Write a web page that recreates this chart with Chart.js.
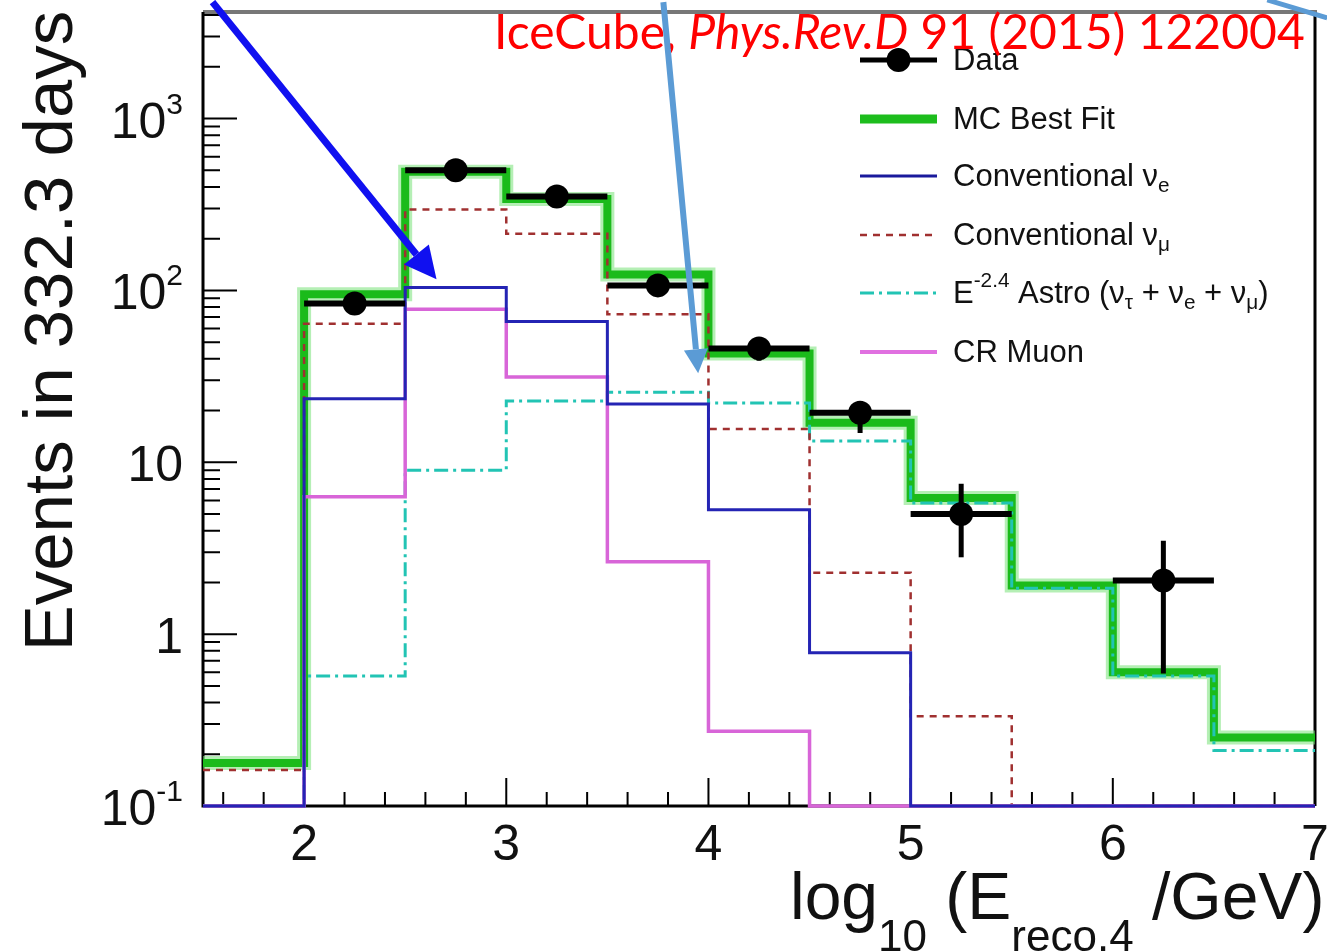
<!DOCTYPE html>
<html>
<head>
<meta charset="utf-8">
<script src="https://cdn.jsdelivr.net/npm/chart.js@4.4.0/dist/chart.umd.min.js"></script>
<style>
  html, body { margin: 0; padding: 0; background: #fff; }
  #wrap { width: 1327px; height: 951px; position: relative; }
</style>
</head>
<body>
<div id="wrap"><canvas id="spectrum" width="1327" height="951"></canvas></div>
<script>
// bin edges in log10(E_reco/GeV)
const binEdges = [1.5, 2, 2.5, 3, 3.5, 4, 4.5, 5, 5.5, 6, 6.5, 7];

// expected events per bin (0.1 means the bin is empty and sits on the axis)
const mcBestFit = [0.178, 95, 490, 340, 124, 43, 17, 6.2, 1.92, 0.60, 0.25];
const convNuE   = [0.1, 23.4, 104, 66, 21.8, 5.3, 0.78, 0.1, 0.1, 0.1, 0.1];
const convNuMu  = [0.162, 64, 296, 214, 72.6, 15.6, 2.28, 0.333, 0.1, 0.1, 0.1];
const astro     = [0.1, 0.57, 9.0, 22.7, 25.6, 22.1, 13.3, 5.8, 1.85, 0.57, 0.21];
const crMuon    = [0.1, 6.3, 77.6, 31.3, 2.64, 0.272, 0.1, 0.1, 0.1, 0.1, 0.1];

// observed events with their error range
const dataBins   = [2.25, 2.75, 3.25, 3.75, 4.25, 4.75, 5.25, 6.25];
const dataEvents = [84, 500, 352, 107, 46, 19.4, 5.0, 2.05];
const dataLow    = [77, 478, 333, 97, 39, 14.8, 2.8, 0.59];
const dataHigh   = [92, 522, 371, 117, 53, 22.7, 7.5, 3.5];

// axis ticks
const xTicks = [2, 3, 4, 5, 6, 7];
const yTicks = [0.1, 1, 10, 100, 1000];
const yTickBase = ['10', '1', '10', '10', '10'];
const yTickExp  = ['-1', '', '', '2', '3'];

// annotation arrows, given in (x, events) coordinates
const arrowDark  = { from: [1.547, 4760], to: [2.655, 116] };
const arrowLight = { from: [3.777, 4760], to: [3.949, 33] };
const arrowEdge  = { from: [6.764, 4900], to: [7.06, 3850] };

const FONT = '"Liberation Sans", Arial, Helvetica, sans-serif';

function histPoints(values) {
  const pts = values.map((v, i) => ({ x: binEdges[i], y: v }));
  pts.push({ x: binEdges[binEdges.length - 1], y: values[values.length - 1] });
  return pts;
}

function histSet(label, values, color, width, dash) {
  return {
    type: 'line', label, data: histPoints(values),
    borderColor: color, borderWidth: width, borderDash: dash || [],
    stepped: 'before', pointRadius: 0, fill: false, clip: false,
    borderCapStyle: 'butt', borderJoinStyle: 'miter'
  };
}

// draws a run of text pieces with sub/superscripts, returns the end x
function drawRuns(ctx, x, y, runs, size, family) {
  runs.forEach(r => {
    let s = size, dy = 0;
    if (r.sub) { s = r.size || size * 0.67; dy = r.dy != null ? r.dy : size * 0.3; }
    if (r.sup) { s = r.size || size * 0.67; dy = r.dy != null ? r.dy : -size * 0.42; }
    ctx.font = (r.italic ? 'italic ' : '') + s + 'px ' + (family || FONT);
    ctx.fillText(r.t, x, y + dy);
    x += ctx.measureText(r.t).width;
  });
  return x;
}

function drawArrow(ctx, x0, y0, x1, y1, color, width, headLen, headHalf) {
  const a = Math.atan2(y1 - y0, x1 - x0);
  const bx = x1 - headLen * Math.cos(a), by = y1 - headLen * Math.sin(a);
  ctx.save();
  ctx.strokeStyle = color; ctx.fillStyle = color; ctx.lineWidth = width;
  ctx.beginPath(); ctx.moveTo(x0, y0); ctx.lineTo(bx, by); ctx.stroke();
  ctx.beginPath();
  ctx.moveTo(x1, y1);
  ctx.lineTo(bx + headHalf * Math.sin(a), by - headHalf * Math.cos(a));
  ctx.lineTo(bx - headHalf * Math.sin(a), by + headHalf * Math.cos(a));
  ctx.closePath(); ctx.fill();
  ctx.restore();
}

// frame, inward ticks and tick labels
const framePlugin = {
  id: 'frame',
  beforeDatasetsDraw(chart) {
    const { ctx, chartArea: a, scales: { x, y } } = chart;
    ctx.save();
    ctx.strokeStyle = '#777'; ctx.lineWidth = 4;
    ctx.beginPath(); ctx.moveTo(a.left, a.top); ctx.lineTo(a.right + 2, a.top); ctx.stroke();
    ctx.strokeStyle = '#000'; ctx.lineWidth = 3;
    ctx.beginPath();
    ctx.moveTo(a.right, a.top); ctx.lineTo(a.right, a.bottom);
    ctx.moveTo(a.left, a.top); ctx.lineTo(a.left, a.bottom); ctx.lineTo(a.right, a.bottom);
    ctx.stroke();

    ctx.lineWidth = 2;
    ctx.beginPath();
    // y ticks on the left axis
    for (let e = -1; e <= 3; e++) {
      for (let k = 1; k <= 9; k++) {
        const v = k * Math.pow(10, e);
        if (v > y.max) break;
        const py = y.getPixelForValue(v);
        const len = k === 1 ? 34 : 17;
        ctx.moveTo(a.left, py); ctx.lineTo(a.left + len, py);
      }
    }
    // x ticks on the bottom axis
    for (let i = 0; i <= 55; i++) {
      const v = 1.5 + i * 0.1;
      if (Math.abs(v * 5 - Math.round(v * 5)) > 1e-6) continue;
      const px = x.getPixelForValue(v);
      const major = Math.abs(v - Math.round(v)) < 1e-6;
      ctx.moveTo(px, a.bottom); ctx.lineTo(px, a.bottom - (major ? 28 : 14));
    }
    ctx.stroke();

    ctx.fillStyle = '#111';
    ctx.textBaseline = 'alphabetic';
    ctx.textAlign = 'center';
    ctx.font = '50px ' + FONT;
    xTicks.forEach(v => ctx.fillText(String(v), x.getPixelForValue(v), 860));

    ctx.textAlign = 'left';
    yTicks.forEach((v, i) => {
      const py = y.getPixelForValue(v);
      ctx.font = '30px ' + FONT;
      const ew = yTickExp[i] ? ctx.measureText(yTickExp[i]).width : 0;
      ctx.font = '50px ' + FONT;
      const bw = ctx.measureText(yTickBase[i]).width;
      const bx = 183 - ew - bw;
      ctx.fillText(yTickBase[i], bx, py + 19);
      if (yTickExp[i]) {
        ctx.font = '30px ' + FONT;
        ctx.fillText(yTickExp[i], bx + bw, py - 5);
      }
    });
    ctx.restore();
  }
};

// error bars under the data markers
const errorBarPlugin = {
  id: 'errorBars',
  beforeDatasetDraw(chart, args) {
    const ds = chart.data.datasets[args.index];
    const { ctx, scales: { x, y } } = chart;
    // soft light rim around the best-fit line
    if (ds.label === 'MC Best Fit') {
      const pts = args.meta.data;
      ctx.save();
      ctx.strokeStyle = 'rgba(120, 225, 120, 0.55)';
      ctx.lineWidth = 14;
      ctx.lineJoin = 'miter';
      ctx.beginPath();
      pts.forEach((p, i) => {
        if (i === 0) ctx.moveTo(p.x, p.y);
        else { ctx.lineTo(p.x, pts[i - 1].y); ctx.lineTo(p.x, p.y); }
      });
      ctx.stroke();
      ctx.restore();
      return;
    }
    if (ds.label !== 'Data') return;
    const half = (binEdges[1] - binEdges[0]) / 2;
    ctx.save();
    ctx.strokeStyle = '#000';
    dataBins.forEach((b, i) => {
      const py = y.getPixelForValue(dataEvents[i]);
      ctx.lineWidth = 6;
      ctx.beginPath();
      ctx.moveTo(x.getPixelForValue(b - half), py);
      ctx.lineTo(x.getPixelForValue(b + half), py);
      ctx.stroke();
      ctx.lineWidth = 5;
      ctx.beginPath();
      ctx.moveTo(x.getPixelForValue(b), y.getPixelForValue(dataLow[i]));
      ctx.lineTo(x.getPixelForValue(b), y.getPixelForValue(dataHigh[i]));
      ctx.stroke();
    });
    ctx.restore();
  }
};

// axis titles, legend, citation and arrows
const overlayPlugin = {
  id: 'overlay',
  afterDraw(chart) {
    const { ctx, scales: { x, y } } = chart;
    ctx.save();
    ctx.fillStyle = '#111';
    ctx.textBaseline = 'alphabetic';
    ctx.textAlign = 'left';

    // y title
    ctx.save();
    ctx.translate(72, 331);
    ctx.rotate(-Math.PI / 2);
    ctx.textAlign = 'center';
    ctx.font = '69px ' + FONT;
    ctx.fillText('Events in 332.3 days', 0, 0);
    ctx.restore();

    // x title
    drawRuns(ctx, 790, 919, [
      { t: 'log' }, { t: '10', sub: true, size: 44, dy: 32 },
      { t: ' (E' }, { t: 'reco.4', sub: true, size: 44, dy: 32 },
      { t: ' /GeV)' }
    ], 66);

    // legend
    const lx0 = 860, lx1 = 937, tx = 953;
    const rows = [60, 119, 176, 235, 293, 352];
    const entries = [
      { runs: [{ t: 'Data' }] },
      { runs: [{ t: 'MC Best Fit' }], color: '#1dbd1d', width: 9 },
      { runs: [{ t: 'Conventional ν' }, { t: 'e', sub: true }], color: '#1a1a9c', width: 3 },
      { runs: [{ t: 'Conventional ν' }, { t: 'μ', sub: true }], color: '#a03030', width: 2.5, dash: [7, 6] },
      { runs: [{ t: 'E' }, { t: '-2.4', sup: true }, { t: ' Astro (ν' }, { t: 'τ', sub: true },
               { t: ' + ν' }, { t: 'e', sub: true }, { t: ' + ν' }, { t: 'μ', sub: true }, { t: ')' }],
        color: '#22c4b4', width: 3, dash: [14, 5, 3, 5] },
      { runs: [{ t: 'CR Muon' }], color: '#e070e0', width: 4 }
    ];
    entries.forEach((en, i) => {
      const ry = rows[i];
      ctx.save();
      if (i === 0) {
        ctx.strokeStyle = '#000'; ctx.lineWidth = 5;
        ctx.beginPath(); ctx.moveTo(lx0, ry); ctx.lineTo(lx1, ry); ctx.stroke();
        ctx.fillStyle = '#000';
        ctx.beginPath(); ctx.arc((lx0 + lx1) / 2, ry, 12, 0, Math.PI * 2); ctx.fill();
      } else {
        ctx.strokeStyle = en.color; ctx.lineWidth = en.width;
        ctx.setLineDash(en.dash || []);
        ctx.beginPath(); ctx.moveTo(lx0, ry); ctx.lineTo(lx1, ry); ctx.stroke();
      }
      ctx.restore();
      ctx.textBaseline = 'middle';
      drawRuns(ctx, tx, ry + 1, en.runs, 31);
    });

    // citation
    ctx.textBaseline = 'alphabetic';
    ctx.fillStyle = '#ff0000';
    drawRuns(ctx, 494, 49, [
      { t: 'IceCube, ' }, { t: 'Phys.Rev.D', italic: true }, { t: ' 91 (2015) 122004' }
    ], 48, 'Lato, "Open Sans", sans-serif');

    // arrows
    const px = p => [x.getPixelForValue(p[0]), y.getPixelForValue(p[1])];
    let f = px(arrowDark.from), t = px(arrowDark.to);
    drawArrow(ctx, f[0], f[1], t[0], t[1], '#1010f0', 7, 32, 16);
    f = px(arrowLight.from); t = px(arrowLight.to);
    drawArrow(ctx, f[0], f[1], t[0], t[1], '#5b9bd5', 6, 24, 12);
    f = px(arrowEdge.from); t = px(arrowEdge.to);
    ctx.strokeStyle = '#5b9bd5'; ctx.lineWidth = 5;
    ctx.beginPath(); ctx.moveTo(f[0], f[1]); ctx.lineTo(t[0], t[1]); ctx.stroke();
    ctx.restore();
  }
};

new Chart(document.getElementById('spectrum'), {
  type: 'line',
  data: {
    datasets: [
      {
        type: 'scatter', label: 'Data',
        data: dataBins.map((b, i) => ({ x: b, y: dataEvents[i] })),
        pointRadius: 12, pointBackgroundColor: '#000', pointBorderWidth: 0,
        showLine: false, clip: false
      },
      histSet('Conventional νe', convNuE, '#2424b4', 3),
      histSet('CR Muon', crMuon, '#d865d8', 3.5),
      histSet('Conventional νμ', convNuMu, '#a03030', 2.5, [7, 6]),
      histSet('Astro', astro, '#22c4b4', 3, [14, 5, 3, 5]),
      histSet('MC Best Fit', mcBestFit, '#1bbb1b', 8)
    ]
  },
  options: {
    responsive: false,
    animation: false,
    layout: { padding: { left: 0, right: 8, top: 10, bottom: 0 } },
    plugins: { legend: { display: false }, tooltip: { enabled: false } },
    scales: {
      x: {
        type: 'linear', min: 1.5, max: 7,
        ticks: { display: false }, grid: { display: false }, border: { display: false },
        afterFit(scale) { scale.height = 145; }
      },
      y: {
        type: 'logarithmic', min: 0.1, max: 4170,
        ticks: { display: false }, grid: { display: false }, border: { display: false },
        afterFit(scale) { scale.width = 203; }
      }
    }
  },
  plugins: [framePlugin, errorBarPlugin, overlayPlugin]
});
</script>
</body>
</html>
